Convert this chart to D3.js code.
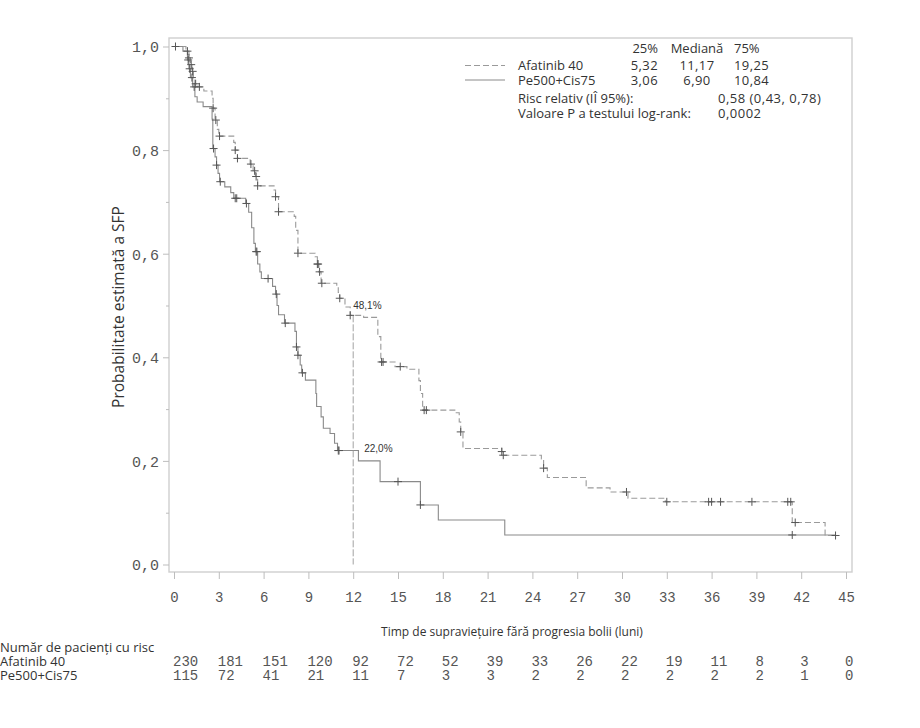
<!DOCTYPE html>
<html>
<head>
<meta charset="utf-8">
<script src="https://cdn.jsdelivr.net/npm/d3@7/dist/d3.min.js"></script>
<style>
  body { margin: 0; background: #fff; }
  svg { display: block; }
</style>
</head>
<body>
<svg id="chart" width="920" height="728"></svg>
<script>
// ---------------- DATA ----------------
const seriesNames = ["Afatinib 40", "Pe500+Cis75"];
const q25 = ["5,32", "3,06"];
const q50 = ["11,17", "6,90"];
const q75 = ["19,25", "10,84"];
const statLabels = ["Risc relativ (IÎ 95%):", "Valoare P a testului log-rank:"];
const statValues = ["0,58 (0,43, 0,78)", "0,0002"];

// Kaplan-Meier steps: [time (months), survival after the event]
const afatinibSteps = [
  [0.8,0.991],[1.0,0.978],[1.1,0.965],[1.2,0.952],[1.3,0.94],[1.4,0.928],[1.6,0.922],
  [2.0,0.914],[2.55,0.9],[2.62,0.881],[2.75,0.858],[2.9,0.84],[3.0,0.827],[4.0,0.815],[4.1,0.8],
  [4.25,0.784],[5.1,0.773],[5.3,0.76],[5.45,0.749],[5.6,0.731],[6.7,0.723],[6.8,0.71],
  [7.0,0.681],[8.05,0.672],[8.15,0.645],[8.3,0.601],[9.45,0.594],[9.6,0.58],[9.7,0.565],
  [9.85,0.543],[10.9,0.536],[11.0,0.525],[11.1,0.514],[11.45,0.497],[11.8,0.481],
  [12.7,0.477],[13.65,0.44],[13.85,0.391],[14.8,0.382],[15.6,0.377],[16.4,0.355],
  [16.5,0.33],[16.65,0.298],[18.9,0.293],[19.1,0.275],[19.2,0.256],[19.35,0.224],
  [21.95,0.218],[22.05,0.211],[24.6,0.204],[24.75,0.186],[25.0,0.168],[27.6,0.148],
  [29.2,0.14],[30.4,0.128],[32.9,0.121],[41.4,0.081],[43.6,0.056]
];
const afatinibCensored = [0.1,0.9,1.0,1.15,1.25,1.45,1.7,2.62,2.8,3.05,4.1,4.25,5.15,5.4,
  5.5,5.6,6.8,7.0,8.3,9.6,9.65,9.75,9.9,11.1,11.8,13.9,14.0,15.15,16.75,16.9,19.2,21.95,
  22.05,24.75,30.3,33.0,35.8,36.0,36.6,38.7,41.1,41.3,41.6,44.3];
const afatinibEnd = 44.3;

const pemetrexedSteps = [
  [0.6,0.991],[0.9,0.974],[1.0,0.957],[1.1,0.94],[1.25,0.922],[1.4,0.903],[1.55,0.893],
  [1.95,0.884],[2.55,0.86],[2.6,0.803],[2.75,0.787],[2.85,0.771],[2.95,0.755],[3.05,0.739],
  [3.4,0.729],[3.8,0.718],[4.0,0.707],[4.8,0.697],[5.0,0.68],[5.2,0.65],[5.35,0.62],
  [5.45,0.604],[5.6,0.58],[5.75,0.565],[5.85,0.552],[6.6,0.537],[6.8,0.522],[6.9,0.5],
  [7.0,0.482],[7.4,0.466],[8.1,0.45],[8.2,0.42],[8.3,0.404],[8.45,0.385],[8.55,0.37],
  [8.8,0.356],[9.5,0.33],[9.55,0.305],[9.85,0.285],[10.0,0.263],[10.45,0.253],
  [10.75,0.234],[10.95,0.22],[12.35,0.2],[13.8,0.16],[16.5,0.115],[17.7,0.086],[22.15,0.057]
];
const pemetrexedCensored = [0.95,1.05,1.2,1.35,2.65,2.85,3.1,4.1,4.2,4.85,5.5,5.55,6.3,
  6.85,7.45,8.2,8.3,8.6,11.0,11.05,15.0,16.5,41.4];
const pemetrexedEnd = 44.3;

const landmarkTime = 12;
const landmarkLabels = ["48,1%", "22,0%"];

const xTickValues = [0,3,6,9,12,15,18,21,24,27,30,33,36,39,42,45];
const yTickValues = [0,0.2,0.4,0.6,0.8,1.0];
const yTickLabels = ["0,0","0,2","0,4","0,6","0,8","1,0"];
const yMinorTicks = [0.1,0.3,0.5,0.7,0.9];

const riskTitle = "Număr de pacienți cu risc";
const riskAfatinib = [230,181,151,120,92,72,52,39,33,26,22,19,11,8,3,0];
const riskPemetrexed = [115,72,41,21,11,7,3,3,2,2,2,2,2,2,1,0];

const xTitle = "Timp de supraviețuire fără progresia bolii (luni)";
const yTitle = "Probabilitate estimată a SFP";

// ---------------- DRAW ----------------
const svg = d3.select("#chart");
const sans = "'Open Sans', 'Noto Sans', sans-serif";
const mono = "'Liberation Mono', 'DejaVu Sans Mono', monospace";
const frame = {left: 169, top: 38, right: 852, bottom: 572};

const x = d3.scaleLinear().domain([0, 45]).range([174, 846]);
const y = d3.scaleLinear().domain([0, 1]).range([564.5, 46.5]);

function survAt(steps, t) {
  let s = 1;
  for (const [ti, si] of steps) { if (ti <= t) s = si; else break; }
  return s;
}
function pathPoints(steps, end) {
  const pts = [[0, 1], ...steps];
  pts.push([end, steps[steps.length - 1][1]]);
  return pts;
}

// frame
svg.append("rect")
  .attr("x", frame.left).attr("y", frame.top)
  .attr("width", frame.right - frame.left).attr("height", frame.bottom - frame.top)
  .attr("fill", "none").attr("stroke", "#cfcfcf").attr("stroke-width", 1.4);

// y axis
const yAxis = d3.axisLeft(y).tickValues(yTickValues).tickSize(6).tickPadding(4)
  .tickFormat((d, i) => yTickLabels[i]);
const gy = svg.append("g").attr("transform", `translate(${frame.left},0)`).call(yAxis);
gy.select(".domain").remove();
gy.selectAll("line").attr("stroke", "#bdbdbd");
gy.selectAll("text").attr("font-family", mono).attr("font-size", 15).attr("fill", "#555")
  .attr("dy", "0.36em");
const gyMinor = svg.append("g").attr("transform", `translate(${frame.left},0)`)
  .call(d3.axisLeft(y).tickValues(yMinorTicks).tickSize(3).tickFormat(""));
gyMinor.select(".domain").remove();
gyMinor.selectAll("line").attr("stroke", "#bdbdbd");

// x axis
const xAxis = d3.axisBottom(x).tickValues(xTickValues).tickSize(7).tickPadding(13);
const gx = svg.append("g").attr("transform", `translate(0,${frame.bottom})`).call(xAxis);
gx.select(".domain").remove();
gx.selectAll("line").attr("stroke", "#bdbdbd");
gx.selectAll("text").attr("font-family", mono).attr("font-size", 14).attr("fill", "#555");

// axis titles
svg.append("text")
  .attr("transform", `translate(124,307) rotate(-90)`)
  .attr("text-anchor", "middle").attr("font-family", sans).attr("font-size", 15.5)
  .attr("fill", "#333").text(yTitle);
svg.append("text")
  .attr("x", 512).attr("y", 636).attr("text-anchor", "middle")
  .attr("font-family", sans).attr("font-size", 12).attr("fill", "#333").text(xTitle);

// curves
const line = d3.line().x(d => x(d[0])).y(d => y(d[1])).curve(d3.curveStepAfter);
svg.append("path").datum(pathPoints(pemetrexedSteps, pemetrexedEnd))
  .attr("d", line).attr("fill", "none").attr("stroke", "#8a8a8a").attr("stroke-width", 1.1);
svg.append("path").datum(pathPoints(afatinibSteps, afatinibEnd))
  .attr("d", line).attr("fill", "none").attr("stroke", "#9a9a9a").attr("stroke-width", 1.1)
  .attr("stroke-dasharray", "6,3");

// landmark vertical line at 12 months
svg.append("line")
  .attr("x1", x(landmarkTime)).attr("x2", x(landmarkTime))
  .attr("y1", y(survAt(afatinibSteps, landmarkTime))).attr("y2", y(0))
  .attr("stroke", "#999").attr("stroke-width", 0.9).attr("stroke-dasharray", "7,2");

// censor marks
function drawCensor(times, steps) {
  const g = svg.append("g");
  times.forEach(t => {
    const cx = x(t), cy = y(survAt(steps, t));
    g.append("line").attr("x1", cx - 4).attr("x2", cx + 4).attr("y1", cy).attr("y2", cy);
    g.append("line").attr("x1", cx).attr("x2", cx).attr("y1", cy - 4).attr("y2", cy + 4);
  });
  g.selectAll("line").attr("stroke", "#555").attr("stroke-width", 1);
}
drawCensor(afatinibCensored, afatinibSteps);
drawCensor(pemetrexedCensored, pemetrexedSteps);

// landmark labels
svg.append("text").attr("x", x(landmarkTime) + 0).attr("y", y(survAt(afatinibSteps, landmarkTime)) - 6)
  .attr("font-family", "'Liberation Sans', Arial, sans-serif").attr("font-size", 10)
  .attr("fill", "#333").text(landmarkLabels[0]);
svg.append("text").attr("x", x(landmarkTime) + 11).attr("y", y(survAt(pemetrexedSteps, landmarkTime)) + 1)
  .attr("font-family", "'Liberation Sans', Arial, sans-serif").attr("font-size", 10)
  .attr("fill", "#333").text(landmarkLabels[1]);

// legend
const lg = svg.append("g").attr("font-family", sans).attr("font-size", 13).attr("fill", "#333");
lg.append("text").attr("x", 658).attr("y", 53).attr("text-anchor", "end").text("25%");
lg.append("text").attr("x", 697).attr("y", 53).attr("text-anchor", "middle").text("Mediană");
lg.append("text").attr("x", 734).attr("y", 53).text("75%");
const rowY = [70, 84.5];
seriesNames.forEach((name, i) => {
  lg.append("line").attr("x1", 465).attr("x2", 505)
    .attr("y1", rowY[i] - 4.5).attr("y2", rowY[i] - 4.5)
    .attr("stroke", i === 0 ? "#9a9a9a" : "#8a8a8a").attr("stroke-width", 1)
    .attr("stroke-dasharray", i === 0 ? "6,3" : null);
  lg.append("text").attr("x", 518).attr("y", rowY[i]).text(name);
  lg.append("text").attr("x", 658).attr("y", rowY[i]).attr("text-anchor", "end")
    .attr("letter-spacing", 0.4).text(q25[i]);
  lg.append("text").attr("x", 697).attr("y", rowY[i]).attr("text-anchor", "middle")
    .attr("letter-spacing", 0.4).text(q50[i]);
  lg.append("text").attr("x", 734).attr("y", rowY[i])
    .attr("letter-spacing", 0.4).text(q75[i]);
});
const statY = [103, 117.5];
statLabels.forEach((lab, i) => {
  lg.append("text").attr("x", 518).attr("y", statY[i]).text(lab);
  lg.append("text").attr("x", 718).attr("y", statY[i]).attr("letter-spacing", 0.5)
    .text(statValues[i]);
});

// risk table
const rt = svg.append("g");
rt.append("text").attr("x", 0).attr("y", 652).attr("font-family", sans).attr("font-size", 13)
  .attr("fill", "#333").text(riskTitle);
const riskRows = [riskAfatinib, riskPemetrexed];
const riskY = [666, 680];
riskRows.forEach((row, i) => {
  rt.append("text").attr("x", 0).attr("y", riskY[i]).attr("font-family", sans)
    .attr("font-size", 13).attr("fill", "#333").text(seriesNames[i]);
  rt.selectAll(null).data(row).enter().append("text")
    .attr("x", (d, j) => x(xTickValues[j]) - 1).attr("y", riskY[i])
    .attr("font-family", mono).attr("font-size", 14).attr("fill", "#555")
    .text(d => d);
});
</script>
</body>
</html>
